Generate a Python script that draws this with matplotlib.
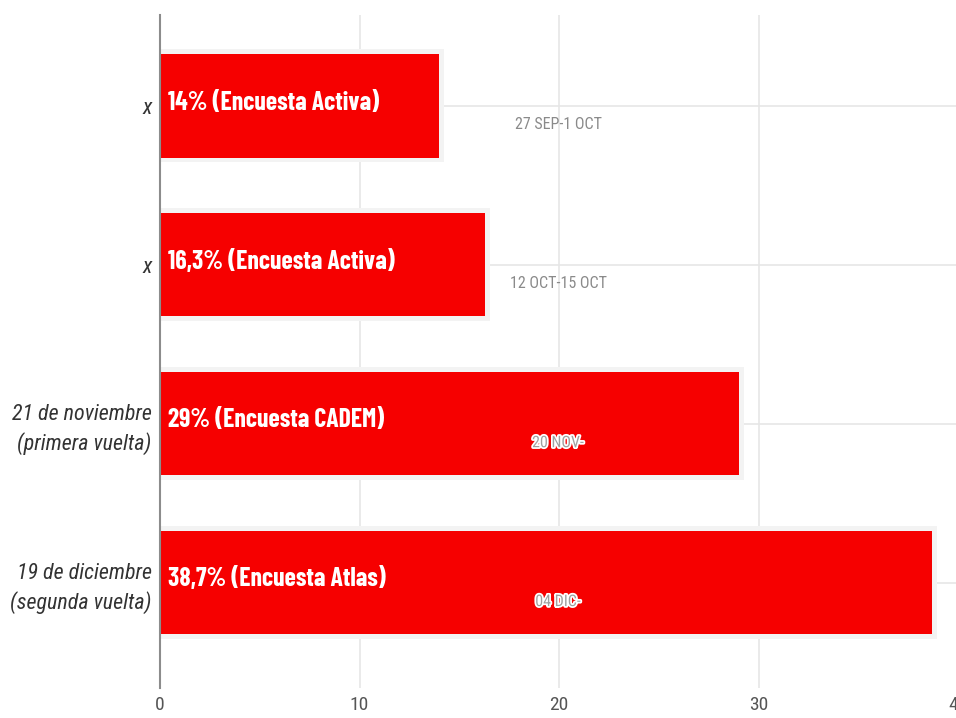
import matplotlib
matplotlib.use("Agg")
import matplotlib.pyplot as plt
import matplotlib.patheffects as pe
from matplotlib import font_manager

# Datos
categorias = ["x", "x", "21 de noviembre\n(primera vuelta)", "19 de diciembre\n(segunda vuelta)"]
valores = [14, 16.3, 29, 38.7]
etiquetas = ["14% (Encuesta Activa)", "16,3% (Encuesta Activa)",
             "29% (Encuesta CADEM)", "38,7% (Encuesta Atlas)"]
fechas = ["27 SEP-1 OCT", "12 OCT-15 OCT", "20 NOV-", "04 DIC-"]
xticks = [0, 10, 20, 30, 40]

# fuentes condensadas (con respaldo)
nombres = {f.name for f in font_manager.fontManager.ttflist}
respaldo = dict(family="DejaVu Sans", stretch="condensed")
fuente = dict(family="Roboto Condensed") if "Roboto Condensed" in nombres else respaldo
fuente_barra = dict(family="Barlow Condensed") if "Barlow Condensed" in nombres else fuente

fig = plt.figure(figsize=(9.56, 7.18), dpi=100)
ax = fig.add_axes([160 / 956, 30 / 718, 798 / 956, 673 / 718])

pos = list(range(len(valores)))

# sombra suave y barras
ax.barh(pos, [v + 0.25 for v in valores], height=0.71, color="#f3f3f3", zorder=1)
ax.barh(pos, valores, height=0.65, color="#f60000", zorder=2)

for i in pos:
    ax.text(0.4, i - 0.02, etiquetas[i], color="white", fontsize=18.5, fontweight="bold",
            va="center", ha="left", zorder=4, **fuente_barra)
    t = ax.text(19.95, i + 0.12, fechas[i], color="#8a8a8a", fontsize=11.5,
                va="center", ha="center", zorder=4, **fuente)
    if i >= 2:
        t.set_color("#a0a0a0")
        t.set_path_effects([pe.withStroke(linewidth=2.5, foreground="white")])

ax.set_xlim(0, 40)
ax.set_ylim(3 + 0.664, -0.572)
ax.set_xticks(xticks)
ax.set_xticklabels([str(x) for x in xticks], fontsize=14, color="#555555", **fuente)
ax.set_yticks(pos)
ax.set_yticklabels(categorias, fontsize=15.8, style="italic",
                   color="#333333", linespacing=1.4, **fuente)
ax.tick_params(axis="both", length=0)
ax.tick_params(axis="y", pad=6)
ax.tick_params(axis="x", pad=6)

ax.grid(True, color="#e6e6e6", linewidth=1.2, zorder=0)
ax.set_axisbelow(True)
for s in ["top", "right", "bottom"]:
    ax.spines[s].set_visible(False)
ax.spines["left"].set_color("#8c8c8c")
ax.spines["left"].set_linewidth(1.5)
ax.spines["left"].set_zorder(3)

fig.savefig("out.png", dpi=100)
